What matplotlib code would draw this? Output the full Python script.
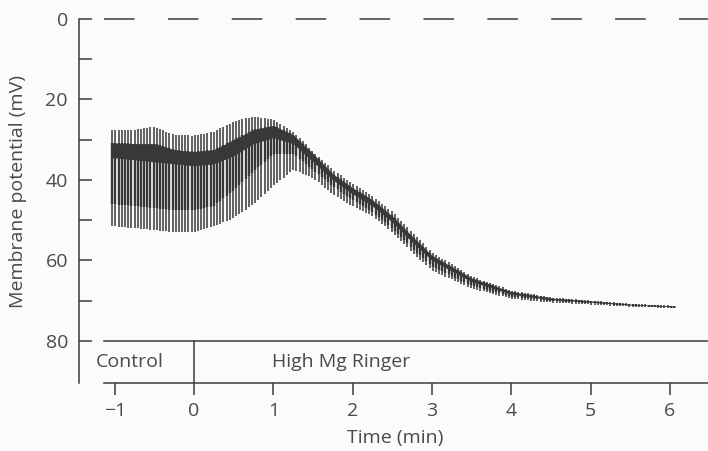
import numpy as np
import matplotlib.pyplot as plt

plt.rcParams['font.family'] = ['Open Sans', 'DejaVu Sans']
plt.rcParams['lines.scale_dashes'] = False

t_env = np.array([-1.03, -0.75, -0.5, -0.25, 0.0, 0.25, 0.5, 0.75, 1.0, 1.25,
                  1.5, 1.75, 2.0, 2.25, 2.5, 2.75, 3.0, 3.5, 4.0, 4.5, 5.0, 5.5, 6.07])
spike_top = np.array([27.5, 27.5, 26.8, 28.8, 29.0, 28.0, 25.5, 24.2, 25.0, 28.0,
                      33.0, 37.5, 41.0, 44.0, 48.0, 53.0, 58.0, 64.0, 67.5, 69.2, 70.0, 70.8, 71.3])
band_top = np.array([30.8, 31.0, 31.0, 32.5, 33.0, 32.5, 30.0, 27.5, 26.5, 28.8,
                     33.5, 38.5, 42.0, 45.0, 49.0, 54.0, 58.8, 64.4, 67.8, 69.4, 70.1, 70.9, 71.4])
band_bot = np.array([34.5, 35.0, 35.5, 36.0, 36.5, 36.0, 34.0, 31.0, 29.5, 31.0,
                     35.5, 40.0, 43.5, 46.5, 50.5, 55.5, 60.0, 65.3, 68.4, 69.8, 70.4, 71.1, 71.6])
mid_bot = np.array([46.0, 46.5, 47.0, 47.5, 47.5, 46.5, 42.5, 38.0, 33.5, 33.5,
                    37.5, 41.5, 45.0, 48.0, 52.0, 57.0, 61.5, 66.3, 69.0, 70.1, 70.6, 71.3, 71.8])
spike_bot = np.array([51.5, 52.0, 52.5, 53.0, 53.0, 51.5, 49.5, 46.0, 41.5, 37.5,
                      39.5, 43.5, 46.5, 49.0, 53.0, 58.0, 62.5, 67.0, 69.5, 70.5, 71.0, 71.5, 71.9])
spike_dt = 0.04   # interval between spikes (min)

x_ticks = [-1, 0, 1, 2, 3, 4, 5, 6]
y_major = [0, 20, 40, 60, 80]
y_minor = [10, 30, 50, 70]

c_trace = '#383838'
c_axis = '#3c3c3c'
c_text = '#4a4a4a'
fs = 14

fig = plt.figure(figsize=(7.08, 4.51), dpi=100, facecolor='#fbfbfb')
ax = fig.add_axes([79/708, 68/451, 629/708, 364/451])
ax.set_facecolor('#fbfbfb')
ax.set_xlim(-1.45, 6.48)
ax.set_ylim(90.5, 0)

# trace
ts = np.arange(t_env[0], t_env[-1], spike_dt)
ax.fill_between(t_env, band_top, band_bot, color=c_trace, lw=0)
ax.vlines(ts, np.interp(ts, t_env, spike_top), np.interp(ts, t_env, spike_bot),
          color=c_trace, lw=1.1)
ax.vlines(ts, np.interp(ts, t_env, band_top), np.interp(ts, t_env, mid_bot),
          color=c_trace, lw=1.7)

# zero line
ax.plot([-1.13, 6.48], [0, 0], color=c_axis, lw=1.1, linestyle=(0, (22, 24)), clip_on=False)

# solution bar
ax.plot([-1.13, 6.48], [80, 80], color=c_axis, lw=1.1, clip_on=False)
ax.plot([0, 0], [80, 90.5], color=c_axis, lw=1.1)
ax.text(-1.24, 85.4, 'Control', ha='left', va='center', fontsize=fs, color=c_text)
ax.text(0.98, 85.4, 'High Mg Ringer', ha='left', va='center', fontsize=fs, color=c_text)

for s in ['top', 'right']:
    ax.spines[s].set_visible(False)
ax.spines['left'].set_bounds(0, 90.5)
ax.spines['bottom'].set_bounds(-1.13, 6.48)
for s in ['left', 'bottom']:
    ax.spines[s].set_color(c_axis)
    ax.spines[s].set_linewidth(1.1)

ax.set_yticks(y_major)
ax.set_yticks(y_minor, minor=True)
ax.set_xticks(x_ticks)
ax.tick_params(axis='y', which='both', direction='in', length=9, width=1.1,
               pad=8, colors=c_axis, labelcolor=c_text, labelsize=fs)
ax.tick_params(axis='x', direction='out', length=8.5, width=1.1,
               pad=5, colors=c_axis, labelcolor=c_text, labelsize=fs)

fig.text(18/708, 1 - 192/451, 'Membrane potential (mV)', rotation=90,
         ha='center', va='center', fontsize=fs, color=c_text)
fig.text(395/708, 1 - 438/451, 'Time (min)', ha='center', va='center',
         fontsize=fs, color=c_text)

fig.savefig('out.png', dpi=100, facecolor=fig.get_facecolor())
